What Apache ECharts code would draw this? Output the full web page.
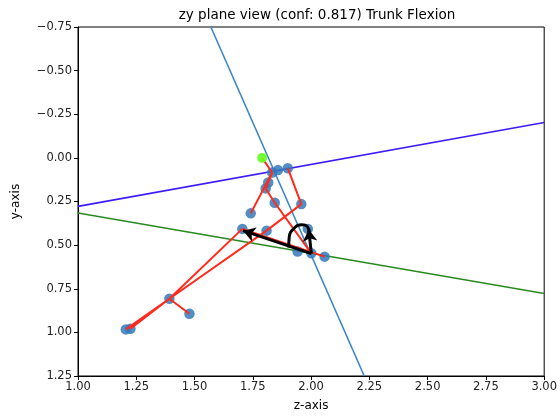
<!DOCTYPE html>
<html>
<head>
<meta charset="utf-8">
<script src="https://cdn.jsdelivr.net/npm/echarts@6/dist/echarts.min.js"></script>
<style>
  html, body { margin: 0; padding: 0; background: #fff; }
  #chart { width: 560px; height: 418px; }
</style>
</head>
<body>
<div id="chart"></div>
<script>
  // keypoints in the zy plane, [z, y]
  const joints = [
    [1.833, 0.084], [1.858, 0.070], [1.900, 0.059], [1.816, 0.141],
    [1.805, 0.175], [1.844, 0.257], [1.958, 0.265], [1.741, 0.318],
    [1.705, 0.407], [1.809, 0.417], [1.986, 0.407], [1.942, 0.537],
    [2.001, 0.547], [2.058, 0.566], [1.392, 0.807], [1.478, 0.893],
    [1.225, 0.979], [1.205, 0.983]
  ];
  const nose = [[1.790, 0.000]];
  // skeleton edges as [from, to] indexes into joints (-1 = nose)
  const edges = [
    [-1, 0], [0, 4], [4, 5], [7, 0], [5, 12], [2, 6], [6, 9],
    [8, 13], [8, 14], [14, 16], [14, 15], [9, 14], [14, 17]
  ];
  // fitted lines, two end points each
  const trunkLine = [[1.570, -0.75], [2.228, 1.25]];
  const purpleLine = [[1.0, 0.278], [3.0, -0.203]];
  const greenLine = [[1.0, 0.316], [3.0, 0.777]];
  // trunk vector and reference arrow
  const trunkArrow = [[2.001, 0.549], [1.708, 0.417]];
  const vertArrow = [[2.001, 0.549], [1.990, 0.410]];
  const arcPts = [[1.904, 0.514], [1.906, 0.455], [1.928, 0.402], [1.960, 0.383], [1.984, 0.394], [1.992, 0.430]];

  let pick = i => (i < 0 ? nose[0] : joints[i]);
  let boneData = [];
  edges.forEach(e => {
    boneData.push(pick(e[0]), pick(e[1]), '-');
  });

  let fmt = v => (v < 0 ? '\u2212' + Math.abs(v).toFixed(2) : v.toFixed(2));
  const font = 'DejaVu Sans';

  let chart = echarts.init(document.getElementById('chart'));
  chart.setOption({
    animation: false,
    title: {
      text: 'zy plane view (conf: 0.817) Trunk Flexion',
      left: 312, top: 3, textAlign: 'center',
      textStyle: { fontFamily: font, fontSize: 13.5, fontWeight: 'normal', color: '#000' }
    },
    grid: { left: 78, right: 12, top: 27, bottom: 42, show: true, borderColor: '#000', borderWidth: 1, backgroundColor: 'transparent' },
    xAxis: {
      type: 'value', min: 1, max: 3, interval: 0.25,
      name: 'z-axis', nameLocation: 'middle', nameGap: 24,
      nameTextStyle: { fontFamily: font, fontSize: 12, color: '#000' },
      axisLine: { show: true, onZero: false, lineStyle: { color: '#000' } },
      axisTick: { show: true, length: 4, lineStyle: { color: '#000' } },
      axisLabel: { fontFamily: font, fontSize: 11.5, color: '#222', margin: 5, formatter: fmt },
      splitLine: { show: false }
    },
    yAxis: {
      type: 'value', min: -0.75, max: 1.25, interval: 0.25, inverse: true,
      name: 'y-axis', nameLocation: 'middle', nameGap: 56,
      nameTextStyle: { fontFamily: font, fontSize: 12, color: '#000' },
      axisLine: { show: true, onZero: false, lineStyle: { color: '#000' } },
      axisTick: { show: true, length: 4, lineStyle: { color: '#000' } },
      axisLabel: { fontFamily: font, fontSize: 11.5, color: '#222', margin: 6, formatter: fmt },
      splitLine: { show: false }
    },
    series: [
      {
        type: 'line', data: greenLine, symbol: 'none', z: 2,
        lineStyle: { color: '#2a8a22', width: 1.6 }
      },
      {
        type: 'line', data: purpleLine, symbol: 'none', z: 2,
        lineStyle: { color: '#3f1cf5', width: 1.6 }
      },
      {
        type: 'line', data: trunkLine, symbol: 'none', z: 2,
        lineStyle: { color: '#3d86c6', width: 1.6 }
      },
      {
        type: 'scatter', data: joints, symbolSize: 10.5, z: 3,
        itemStyle: { color: '#3479b8', opacity: 0.85 }
      },
      {
        type: 'line', data: boneData, symbol: 'none', z: 4, connectNulls: false,
        lineStyle: { color: '#ff2a1c', width: 2 }
      },
      {
        type: 'scatter', data: nose, symbolSize: 10, z: 5,
        itemStyle: { color: '#66ff22', opacity: 0.9 }
      },
      {
        type: 'line', data: arcPts, symbol: 'none', smooth: true, z: 6,
        lineStyle: { color: '#000', width: 3 }
      },
      {
        type: 'line', data: [], z: 6,
        markLine: {
          silent: true, symbol: ['none', 'arrow'], symbolSize: [11, 12], label: { show: false },
          lineStyle: { color: '#000', width: 3, type: 'solid' },
          data: [
            [{ coord: trunkArrow[0] }, { coord: trunkArrow[1] }],
            [{ coord: vertArrow[0] }, { coord: vertArrow[1] }]
          ]
        }
      }
    ]
  });
</script>
</body>
</html>
